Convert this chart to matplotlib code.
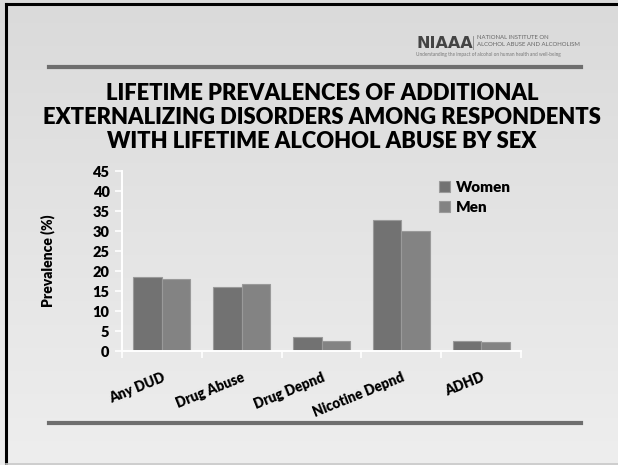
"""Lifetime prevalences of additional externalizing disorders, by sex (NIAAA slide)."""
import numpy as np
import matplotlib
matplotlib.use('Agg')
import matplotlib.pyplot as plt
from matplotlib.lines import Line2D

plt.rcParams['font.family'] = ['Lato', 'DejaVu Sans']

# ---- data ----
categories = ['Any DUD', 'Drug Abuse', 'Drug Depnd', 'Nicotine Depnd', 'ADHD']
women = [18.4, 15.9, 3.5, 32.7, 2.4]
men = [18.1, 16.8, 2.6, 29.9, 2.3]
yticks = [0, 5, 10, 15, 20, 25, 30, 35, 40, 45]

WOMENC = '#727272'
MENC = '#838383'
EDGEC = '#9a9a9a'
RULEC = '#6e6e6e'

W, H = 618, 465
fig = plt.figure(figsize=(W/100, H/100), dpi=100)

# slide background: soft vertical gradient
bg = fig.add_axes([0, 0, 1, 1], zorder=-10)
grad = np.linspace(0, 1, 256).reshape(-1, 1)
bg.imshow(grad, aspect='auto', cmap=matplotlib.colors.LinearSegmentedColormap.from_list(
    'bg', ['#dadada', '#eeeeee']), extent=[0, W, H, 0])
bg.set_xlim(0, W); bg.set_ylim(H, 0); bg.axis('off')

# slide frame (black left/top edge, light bottom)
bg.add_line(Line2D([6, 6], [4, H], color='black', lw=2.2))
bg.add_line(Line2D([6, W], [4.5, 4.5], color='black', lw=2.2))
bg.add_line(Line2D([6, W], [H-1.5, H-1.5], color='#c8c8c8', lw=1.2))

# horizontal rules
bg.add_line(Line2D([49, 581], [66.7, 66.7], color=RULEC, lw=3))
bg.add_line(Line2D([49, 581], [422.7, 422.7], color=RULEC, lw=3))

# NIAAA logo
bg.text(416, 44, 'NIAAA', fontsize=11.5, fontweight='bold', color='#444444',
        ha='left', va='center', family=['DejaVu Sans'])
bg.add_line(Line2D([473, 473], [36, 49], color='#888', lw=0.6))
bg.text(477, 37.5, 'NATIONAL INSTITUTE ON', fontsize=4.3, color='#666', ha='left', va='center')
bg.text(477, 44.5, 'ALCOHOL ABUSE AND ALCOHOLISM', fontsize=4.3, color='#666', ha='left', va='center')
bg.text(416, 54.5, 'Understanding the impact of alcohol on human health and well-being',
        fontsize=3.4, color='#777', ha='left', va='center')

# title
title = ['LIFETIME PREVALENCES OF ADDITIONAL',
         'EXTERNALIZING DISORDERS AMONG RESPONDENTS',
         'WITH LIFETIME ALCOHOL ABUSE BY SEX']
for i, line in enumerate(title):
    bg.text(322, 93 + 24*i, line, fontsize=15.8, fontweight='heavy', color='black',
            ha='center', va='center')

# ---- chart ----
ax = fig.add_axes([122/W, (H-351)/H, 399/W, 180/H])
ax.patch.set_alpha(0)
x = np.arange(len(categories))
bw = 0.357
bw_w = ax.bar(x - bw/2, women, bw, color=WOMENC, edgecolor=EDGEC, lw=0.8, label='Women')
bm = ax.bar(x + bw/2, men, bw, color=MENC, edgecolor=EDGEC, lw=0.8, label='Men')

ax.set_xlim(-0.5, len(categories) - 0.5)
ax.set_ylim(0, 45)
ax.set_yticks(yticks)
ax.set_yticklabels([str(v) for v in yticks], fontsize=10.5, fontweight='heavy')
ax.set_xticks(np.arange(len(categories) + 1) - 0.5)
ax.set_xticklabels([])
ax.set_xticks(x, minor=True)
ax.set_xticklabels(categories, minor=True, rotation=22, ha='right',
                   rotation_mode='anchor', fontsize=9.8, fontweight='heavy')
ax.tick_params(axis='x', which='minor', length=0, pad=14)
ax.tick_params(axis='x', which='major', length=5, color='white', width=1.2)
ax.tick_params(axis='y', length=5, color='white', width=1.2, pad=4)
for s in ['top', 'right']:
    ax.spines[s].set_visible(False)
for s in ['left', 'bottom']:
    ax.spines[s].set_color('white')
    ax.spines[s].set_linewidth(1.4)

ax.set_ylabel('Prevalence (%)', fontsize=10, fontweight='heavy', labelpad=27)

leg = ax.legend(handles=[bw_w, bm], loc='upper left', bbox_to_anchor=(0.76, 1.02),
                frameon=False, fontsize=11, handlelength=0.7, handleheight=0.7,
                handletextpad=0.4, labelspacing=0.45)
for t in leg.get_texts():
    t.set_fontweight('heavy')

fig.savefig('out.png', dpi=100)
